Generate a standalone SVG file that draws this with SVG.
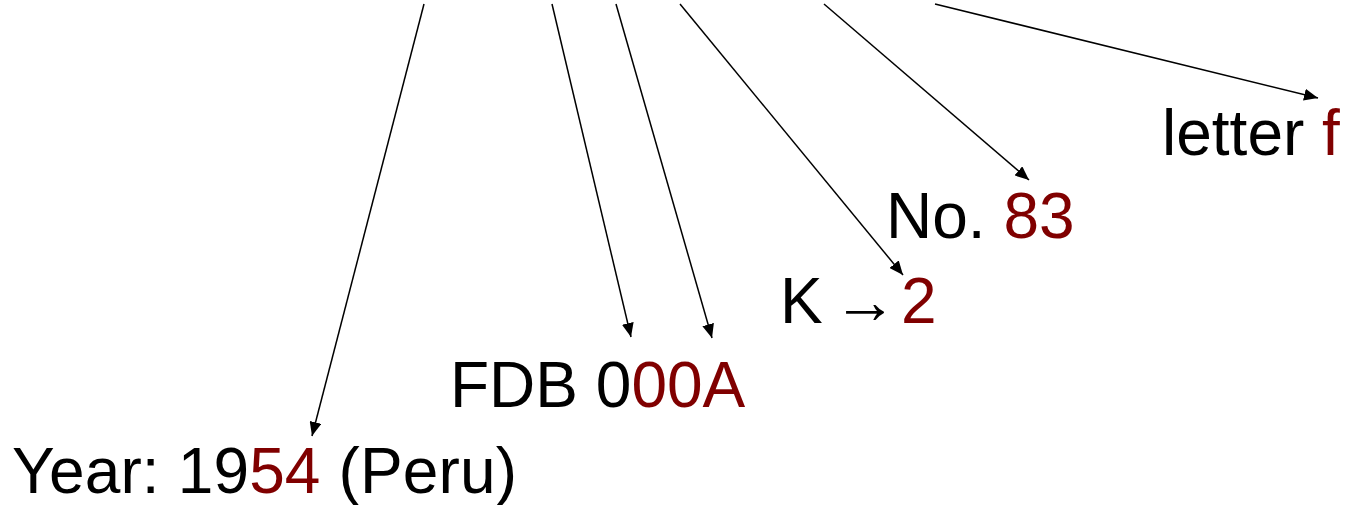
<svg xmlns="http://www.w3.org/2000/svg" width="1345" height="505" viewBox="0 0 1345 505">
<style>
text{font-family:"Liberation Sans",Arial,sans-serif;font-size:64px;fill:#000}
.r{fill:#800000}
.c line{stroke:#000;stroke-width:1.5;fill:none;marker-end:url(#ah)}
</style>
<defs>
<marker id="ah" viewBox="0 0 14 12" refX="14" refY="6" markerWidth="14" markerHeight="12" markerUnits="userSpaceOnUse" orient="auto">
<path d="M0,0L14,6L0,12z" fill="#000"/>
</marker>
</defs>
<rect width="1345" height="505" fill="#fff"/>
<g class="c" id="connectors">
<line x1="424" y1="4" x2="312" y2="436"/>
<line x1="552" y1="4" x2="631" y2="337"/>
<line x1="616" y1="4" x2="712" y2="338"/>
<line x1="680" y1="4" x2="903" y2="275"/>
<line x1="824" y1="4" x2="1029" y2="180"/>
<line x1="935" y1="4" x2="1318" y2="98"/>
</g>
<g id="year"><text x="12" y="493" textLength="505">Year: 19<tspan class="r">54</tspan> (Peru)</text></g>
<g id="fdb"><text x="450" y="407">FDB 0<tspan class="r">00A</tspan></text></g>
<g id="k"><text x="780" y="323">K<tspan x="833">→</tspan><tspan x="901" class="r">2</tspan></text></g>
<g id="no"><text x="886" y="238">No. <tspan class="r">83</tspan></text></g>
<g id="letter"><text x="1162" y="155">letter <tspan class="r">f</tspan></text></g>
</svg>
